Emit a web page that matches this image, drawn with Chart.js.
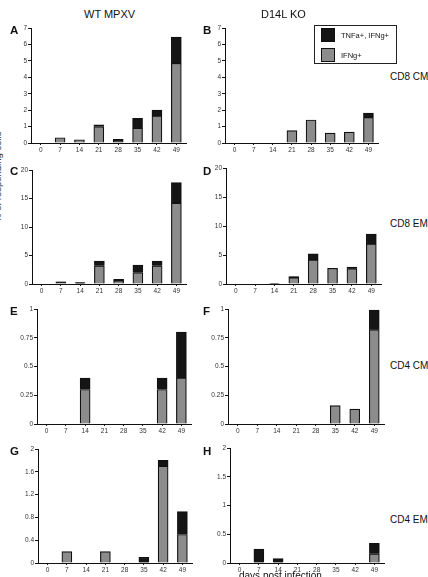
<!DOCTYPE html>
<html>
<head>
<meta charset="utf-8">
<script src="https://cdn.jsdelivr.net/npm/chart.js@4.4.0/dist/chart.umd.min.js"></script>
<style>
  body { margin: 0; width: 428px; height: 577px; overflow: hidden; position: relative; background: #fff; font-family: 'Liberation Sans', Arial, sans-serif; color: #111; }
  canvas { position: absolute; }
  .t { position: absolute; white-space: nowrap; line-height: 1; }
  .head { font-size: 11px; }
  .letter { font-size: 11.5px; font-weight: bold; }
  .side { font-size: 10px; }
  .legend { position: absolute; left: 314px; top: 25px; width: 81px; height: 37px; border: 1px solid #222; background: #fff; }
  .sw { position: absolute; width: 12px; height: 12px; border: 1px solid #111; }
  .legend span { position: absolute; font-size: 7.5px; white-space: nowrap; }
</style>
</head>
<body>
<canvas id="pA"></canvas>
<canvas id="pB"></canvas>
<canvas id="pC"></canvas>
<canvas id="pD"></canvas>
<canvas id="pE"></canvas>
<canvas id="pF"></canvas>
<canvas id="pG"></canvas>
<canvas id="pH"></canvas>

<div class="t head" style="left:84px;top:9px;">WT MPXV</div>
<div class="t head" style="left:261px;top:9px;">D14L KO</div>

<div class="t letter" style="left:10px;top:25px;">A</div>
<div class="t letter" style="left:203px;top:25px;">B</div>
<div class="t letter" style="left:10px;top:166px;">C</div>
<div class="t letter" style="left:203px;top:166px;">D</div>
<div class="t letter" style="left:10px;top:306px;">E</div>
<div class="t letter" style="left:203px;top:306px;">F</div>
<div class="t letter" style="left:10px;top:446px;">G</div>
<div class="t letter" style="left:203px;top:446px;">H</div>

<div class="t side" style="left:390px;top:72px;">CD8 CM</div>
<div class="t side" style="left:390px;top:219px;">CD8 EM</div>
<div class="t side" style="left:390px;top:361px;">CD4 CM</div>
<div class="t side" style="left:390px;top:515px;">CD4 EM</div>

<div class="t" style="left:239px;top:571px;font-size:10px;">days post infection</div>
<div class="t" style="left:-57px;top:172px;width:110px;text-align:center;font-size:9.5px;color:#333;transform:rotate(-90deg);">% of responding cells</div>

<div class="legend">
  <div class="sw" style="left:6px;top:2px;background:#151515;"></div>
  <span style="left:26px;top:5px;">TNFa+, IFNg+</span>
  <div class="sw" style="left:6px;top:22px;background:#8c8c8c;"></div>
  <span style="left:26px;top:25px;">IFNg+</span>
</div>

<script>
const days = ['0', '7', '14', '21', '28', '35', '42', '49'];

// IFNg+ only (grey) and TNFa+ IFNg+ (black, stacked on top)
const wtCd8CmIfng   = [0, 0.32, 0.2, 1.0, 0.1, 0.9, 1.65, 4.85];
const wtCd8CmDouble = [0, 0, 0, 0.1, 0.12, 0.6, 0.35, 1.6];
const koCd8CmIfng   = [0, 0, 0, 0.76, 1.4, 0.6, 0.66, 1.56];
const koCd8CmDouble = [0, 0, 0, 0, 0, 0, 0, 0.26];

const wtCd8EmIfng   = [0, 0.25, 0.15, 3.2, 0.6, 2.0, 3.2, 14.2];
const wtCd8EmDouble = [0, 0.15, 0.1, 0.8, 0.2, 1.3, 0.8, 3.6];
const koCd8EmIfng   = [0, 0, 0, 1.1, 4.15, 2.7, 2.65, 6.9];
const koCd8EmDouble = [0, 0, 0.1, 0.2, 1.05, 0, 0.25, 1.7];

const wtCd4CmIfng   = [0, 0, 0.3, 0, 0, 0, 0.3, 0.4];
const wtCd4CmDouble = [0, 0, 0.1, 0, 0, 0, 0.1, 0.4];
const koCd4CmIfng   = [0, 0, 0, 0, 0, 0.16, 0.13, 0.82];
const koCd4CmDouble = [0, 0, 0, 0, 0, 0, 0, 0.17];

const wtCd4EmIfng   = [0, 0.2, 0, 0.2, 0, 0, 1.7, 0.5];
const wtCd4EmDouble = [0, 0, 0, 0, 0, 0.1, 0.1, 0.4];
const koCd4EmIfng   = [0, 0, 0, 0, 0, 0, 0, 0.16];
const koCd4EmDouble = [0, 0.24, 0.075, 0, 0, 0, 0, 0.18];

const cd8CmTicks = [0, 1, 2, 3, 4, 5, 6, 7];
const cd8EmTicks = [0, 5, 10, 15, 20];
const cd4CmTicks = [0, 0.25, 0.5, 0.75, 1];
const wtCd4EmTicks = [0, 0.4, 0.8, 1.2, 1.6, 2];
const koCd4EmTicks = [0, 0.5, 1, 1.5, 2];

// plot area of each panel in page pixels: left, top, right, bottom
const panels = [
  { id: 'pA', box: [31, 28, 186, 143], ticks: cd8CmTicks, grey: wtCd8CmIfng, black: wtCd8CmDouble },
  { id: 'pB', box: [225, 28, 378, 143], ticks: cd8CmTicks, grey: koCd8CmIfng, black: koCd8CmDouble },
  { id: 'pC', box: [32, 170, 186, 284], ticks: cd8EmTicks, grey: wtCd8EmIfng, black: wtCd8EmDouble },
  { id: 'pD', box: [226, 168, 381, 284], ticks: cd8EmTicks, grey: koCd8EmIfng, black: koCd8EmDouble },
  { id: 'pE', box: [37, 309, 191, 424], ticks: cd4CmTicks, grey: wtCd4CmIfng, black: wtCd4CmDouble },
  { id: 'pF', box: [228, 309, 384, 424], ticks: cd4CmTicks, grey: koCd4CmIfng, black: koCd4CmDouble },
  { id: 'pG', box: [38, 449, 192, 563], ticks: wtCd4EmTicks, grey: wtCd4EmIfng, black: wtCd4EmDouble },
  { id: 'pH', box: [230, 448, 384, 563], ticks: koCd4EmTicks, grey: koCd4EmIfng, black: koCd4EmDouble }
];

const yW = 24, xH = 14, padTop = 5, padRight = 4;
const tickFont = { family: "'Liberation Sans', Arial, sans-serif", size: 6.5 };

panels.forEach(p => {
  const cv = document.getElementById(p.id);
  const w = p.box[2] - p.box[0], h = p.box[3] - p.box[1];
  cv.width = w + yW + padRight;
  cv.height = h + padTop + xH;
  cv.style.left = (p.box[0] - yW) + 'px';
  cv.style.top = (p.box[1] - padTop) + 'px';
  cv.style.width = cv.width + 'px';
  cv.style.height = cv.height + 'px';

  new Chart(cv, {
    type: 'bar',
    data: {
      labels: days,
      datasets: [
        { label: 'IFNg+', data: p.grey, backgroundColor: '#8c8c8c', borderColor: '#111', borderWidth: 1.2, barThickness: 10 },
        { label: 'TNFa+, IFNg+', data: p.black, backgroundColor: '#151515', borderColor: '#111', borderWidth: 1.2, barThickness: 10 }
      ]
    },
    options: {
      responsive: false,
      animation: false,
      layout: { padding: { top: padTop, right: padRight, left: 0, bottom: 0 } },
      plugins: { legend: { display: false }, tooltip: { enabled: false } },
      scales: {
        x: {
          stacked: true,
          afterFit: s => { s.height = xH; },
          grid: { display: true, drawOnChartArea: false, offset: false, color: '#111', tickLength: 2 },
          border: { display: true, color: '#111', width: 1 },
          ticks: { font: tickFont, color: '#333', padding: 1, maxRotation: 0, autoSkip: false }
        },
        y: {
          stacked: true,
          min: 0,
          max: p.ticks[p.ticks.length - 1],
          afterFit: s => { s.width = yW; },
          afterBuildTicks: s => { s.ticks = p.ticks.map(v => ({ value: v })); },
          grid: { display: true, drawOnChartArea: false, color: '#111', tickLength: 3 },
          border: { display: true, color: '#111', width: 1 },
          ticks: { font: tickFont, color: '#333', padding: 1, callback: v => String(+v.toFixed(2)) }
        }
      }
    }
  });
});
</script>
</body>
</html>
